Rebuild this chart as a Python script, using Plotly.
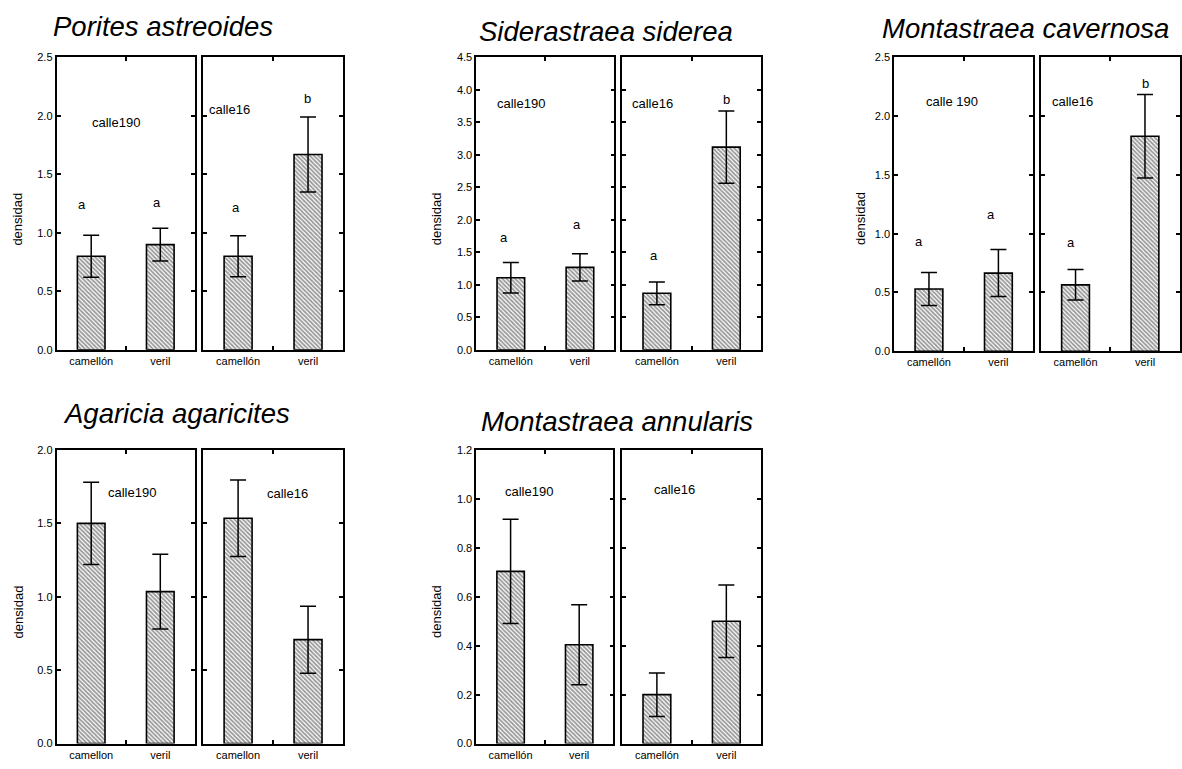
import plotly.graph_objects as go

W, H = 1182, 769

# ---------------- data ----------------
categories = ["camellón", "veril"]
categories_agaricia = ["camellon", "veril"]

titles = ["Porites astreoides", "Siderastraea siderea", "Montastraea cavernosa",
          "Agaricia agaricites", "Montastraea annularis"]
site_left = ["calle190", "calle190", "calle 190", "calle190", "calle190"]
site_right = ["calle16", "calle16", "calle16", "calle16", "calle16"]

# means and standard errors: [camellón, veril]
porites_c190 = [0.80, 0.90]
porites_c190_err = [0.18, 0.14]
porites_c16 = [0.80, 1.67]
porites_c16_err = [0.175, 0.32]

siderastraea_c190 = [1.11, 1.27]
siderastraea_c190_err = [0.235, 0.21]
siderastraea_c16 = [0.87, 3.12]
siderastraea_c16_err = [0.175, 0.555]

cavernosa_c190 = [0.53, 0.665]
cavernosa_c190_err = [0.14, 0.20]
cavernosa_c16 = [0.565, 1.83]
cavernosa_c16_err = [0.13, 0.355]

agaricia_c190 = [1.50, 1.035]
agaricia_c190_err = [0.28, 0.255]
agaricia_c16 = [1.535, 0.708]
agaricia_c16_err = [0.26, 0.228]

annularis_c190 = [0.704, 0.404]
annularis_c190_err = [0.213, 0.163]
annularis_c16 = [0.20, 0.50]
annularis_c16_err = [0.089, 0.148]

letters_c190 = [["a", "a"], ["a", "a"], ["a", "a"], None, None]
letters_c16 = [["a", "b"], ["a", "b"], ["a", "b"], None, None]

y_max = [2.5, 4.5, 2.5, 2.0, 1.2]
y_dtick = [0.5, 0.5, 0.5, 0.5, 0.2]

# ---------------- layout geometry (pixels) ----------------
geom = [
    ((56.7, 195.0), (203.3, 343.3), (52.3, 349.3)),
    ((476.7, 615.0), (622.7, 761.7), (52.3, 349.3)),
    ((895.0, 1034.0), (1041.7, 1180.7), (52.3, 350.7)),
    ((56.7, 195.0), (203.3, 343.3), (451.0, 749.3)),
    ((476.7, 614.0), (622.7, 761.7), (451.0, 749.3)),
]
title_pos = [(163, 21), (606.7, 25.8), (1026.7, 23.3), (176.7, 414), (617.5, 421.7)]
site_left_pos = [(116, 118), (521.7, 99), (953.3, 96.7), (132, 494.3), (529, 492.7)]
site_right_pos = [(230, 105), (653, 99), (1073.3, 96.7), (287.7, 495.7), (675, 490.7)]
letter_c190_pos = [[(81.7, 201.7), (156.7, 200)], [(504.3, 235), (577.3, 221.7)],
                   [(919.3, 239.3), (992.3, 212.3)], None, None]
letter_c16_pos = [[(236.7, 205), (307.3, 94)], [(654.3, 253.3), (727.3, 95)],
                  [(1071.7, 240.7), (1146, 78.3)], None, None]
ylabel_pos = [(18, 216), (437, 216), (861, 216), (18, 615), (437, 615)]

def px(x):
    return x / W

def py(y):
    return 1 - y / H

series = [
    (porites_c190, porites_c190_err, porites_c16, porites_c16_err),
    (siderastraea_c190, siderastraea_c190_err, siderastraea_c16, siderastraea_c16_err),
    (cavernosa_c190, cavernosa_c190_err, cavernosa_c16, cavernosa_c16_err),
    (agaricia_c190, agaricia_c190_err, agaricia_c16, agaricia_c16_err),
    (annularis_c190, annularis_c190_err, annularis_c16, annularis_c16_err),
]

FONT = "Liberation Sans, Arial, sans-serif"
fig = go.Figure()
layout = dict(
    width=W, height=H, margin=dict(l=0, r=0, t=0, b=0),
    paper_bgcolor="white", plot_bgcolor="white", showlegend=False,
    font=dict(family=FONT, color="black", size=11),
)
annotations = []

axis_idx = 0
for i in range(5):
    c190, c190e, c16, c16e = series[i]
    cats = categories_agaricia if i == 3 else categories
    (lx0, lx1), (rx0, rx1), (yt, yb) = geom[i]
    for side, (vals, errs, (x0, x1)) in enumerate([(c190, c190e, (lx0, lx1)), (c16, c16e, (rx0, rx1))]):
        axis_idx += 1
        xa = "x" if axis_idx == 1 else f"x{axis_idx}"
        ya = "y" if axis_idx == 1 else f"y{axis_idx}"
        fig.add_trace(go.Bar(
            x=[0, 1], y=vals, width=0.4, xaxis=xa, yaxis=ya,
            marker=dict(color="white", line=dict(color="black", width=1.6),
                        pattern=dict(shape="\\", size=3, solidity=0.6,
                                     fgcolor="#333333", bgcolor="white")),
            error_y=dict(type="data", array=errs, visible=True, color="black",
                         thickness=1.5, width=8),
            hoverinfo="skip",
        ))
        xkey = "xaxis" if axis_idx == 1 else f"xaxis{axis_idx}"
        ykey = "yaxis" if axis_idx == 1 else f"yaxis{axis_idx}"
        layout[xkey] = dict(
            domain=[px(x0), px(x1)], anchor=ya, range=[-0.5, 1.5],
            tickvals=[0, 1], ticktext=cats, ticks="", showgrid=False, zeroline=False,
            showline=True, linecolor="black", linewidth=1.8, mirror="allticks",
            tickfont=dict(size=11, family=FONT, color="black"),
            minor=dict(tickvals=[0.5], ticks="inside", ticklen=4, tickwidth=1.5,
                       tickcolor="black", showgrid=False),
            fixedrange=True,
        )
        layout[ykey] = dict(
            domain=[py(yb), py(yt)], anchor=xa, range=[0, y_max[i]],
            dtick=y_dtick[i], tick0=0, tickformat=".1f", ticks="inside", ticklen=4,
            tickwidth=1.5, tickcolor="black", showgrid=False, zeroline=False,
            showline=True, linecolor="black", linewidth=1.8, mirror="allticks",
            showticklabels=(side == 0),
            tickfont=dict(size=11, family=FONT, color="black"),
            fixedrange=True,
        )

    tx, ty = title_pos[i]
    annotations.append(dict(text=f"<i>{titles[i]}</i>", x=px(tx), y=py(ty), xref="paper", yref="paper",
                            showarrow=False, xanchor="center", yanchor="middle",
                            font=dict(size=27.5, family=FONT, color="black")))
    for txt, (sx, sy) in [(site_left[i], site_left_pos[i]), (site_right[i], site_right_pos[i])]:
        annotations.append(dict(text=txt, x=px(sx), y=py(sy), xref="paper", yref="paper",
                                showarrow=False, xanchor="center", yanchor="middle",
                                font=dict(size=13, family=FONT, color="black")))
    for labs, poss in [(letters_c190[i], letter_c190_pos[i]), (letters_c16[i], letter_c16_pos[i])]:
        if labs is None:
            continue
        for lab, (lxp, lyp) in zip(labs, poss):
            annotations.append(dict(text=lab, x=px(lxp), y=py(lyp), xref="paper", yref="paper",
                                    showarrow=False, xanchor="center", yanchor="middle",
                                    font=dict(size=13, family=FONT, color="black")))
    ax_, ay_ = ylabel_pos[i]
    annotations.append(dict(text="densidad", x=px(ax_), y=py(ay_), xref="paper", yref="paper",
                            showarrow=False, xanchor="center", yanchor="middle", textangle=-90,
                            font=dict(size=13, family=FONT, color="black")))

layout["annotations"] = annotations
fig.update_layout(**layout)
fig.write_html("out.html", config={"displayModeBar": False},
               post_script="document.body.style.margin='0';document.body.style.overflow='hidden';")
